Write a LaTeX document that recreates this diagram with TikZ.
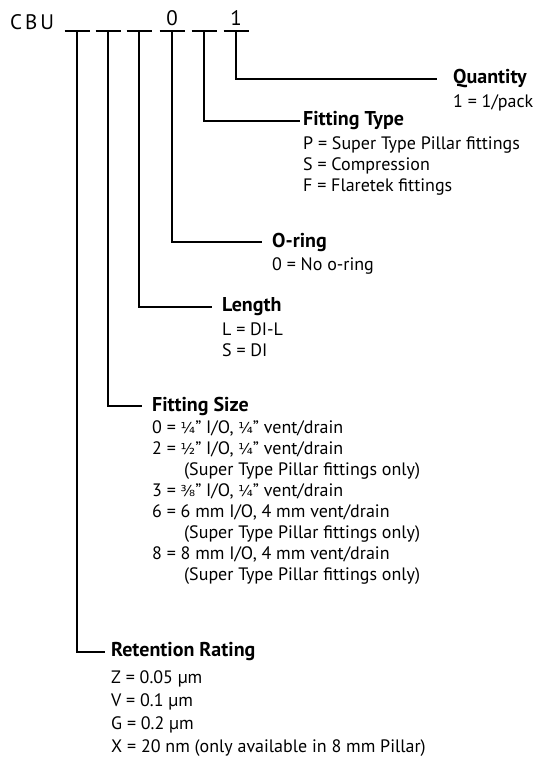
\documentclass[tikz,border=0pt]{standalone}
\usepackage{fontspec}
\setmainfont{PT Sans}
\newfontfamily\fracfont{DejaVu Sans}
\usetikzlibrary{positioning}
\tikzset{
    head/.style={anchor=west, inner sep=0pt, font=\bfseries\fontsize{20}{22}\selectfont},
    items/.style={inner sep=0pt, align=left, font=\fontsize{18}{21}\selectfont},
    code/.style={inner sep=0pt, font=\fontsize{21}{24}\selectfont},
    bar/.style={line width=1.3pt},
    line/.style={line width=1.3pt}
}
\newcommand{\ind}{\hspace*{32pt}}
\newcommand{\fr}[1]{{\fracfont\fontsize{15}{21}\selectfont #1}}

\begin{document}
\begin{tikzpicture}[x=1pt, y=-1pt]
    \useasboundingbox (0,0) rectangle (543,771);

    % part number with its six slots
    \node[code, anchor=west] (cbu) at (10,22) {\addfontfeature{LetterSpace=14}CBU};
    \foreach \i/\x in {1/77,2/108,3/139,4/172,5/204,6/236} {
        \coordinate (slot\i) at (\x,31);
        \draw[bar] ([xshift=-12.5pt]slot\i) -- ([xshift=12.5pt]slot\i);
    }
    \node[code, above=5pt of slot4] (zero) {0};
    \node[code, above=5pt of slot6] (one) {1};

    % quantity
    \node[head] (qty) at (453,79) {Quantity};
    \node[items, below=6pt of qty.south west, anchor=north west] (qty_list) {1 = 1/pack};

    % fitting type
    \node[head] (type) at (303,121) {Fitting Type};
    \node[items, below=6pt of type.south west, anchor=north west] (type_list) {P = Super Type Pillar fittings\\S = Compression\\F = Flaretek fittings};

    % o-ring
    \node[head] (oring) at (272,242) {O-ring};
    \node[items, below=6pt of oring.south west, anchor=north west] (oring_list) {0 = No o-ring};

    % length
    \node[head] (length) at (222,307) {Length};
    \node[items, below=6pt of length.south west, anchor=north west] (length_list) {L = DI-L\\S = DI};

    % fitting size
    \node[head] (size) at (152,406) {Fitting Size};
    \node[items, below=5pt of size.south west, anchor=north west] (size_list) {0 = \fr{¼}" I/O, \fr{¼}" vent/drain\\2 = \fr{½}" I/O, \fr{¼}" vent/drain\\\ind(Super Type Pillar fittings only)\\3 = \fr{⅜}" I/O, \fr{¼}" vent/drain\\6 = 6 mm I/O, 4 mm vent/drain\\\ind(Super Type Pillar fittings only)\\8 = 8 mm I/O, 4 mm vent/drain\\\ind(Super Type Pillar fittings only)};

    % retention rating
    \node[head] (rating) at (111,652) {Retention Rating};
    \node[items, font=\fontsize{18}{23}\selectfont, below=9pt of rating.south west, anchor=north west] (rating_list) {Z = 0.05 µm\\V = 0.1 µm\\G = 0.2 µm\\X = 20 nm (only available in 8 mm Pillar)};

    % Lines
    \draw[line] (slot6) |- ([xshift=-16pt]qty.west);
    \draw[line] (slot5) |- ([xshift=-3pt]type.west);
    \draw[line] (slot4) |- ([xshift=-10pt]oring.west);
    \draw[line] (slot3) |- ([xshift=-10pt]length.west);
    \draw[line] (slot2) |- ([xshift=-10pt]size.west);
    \draw[line] (slot1) |- ([xshift=-6pt]rating.west);
\end{tikzpicture}
\end{document}
